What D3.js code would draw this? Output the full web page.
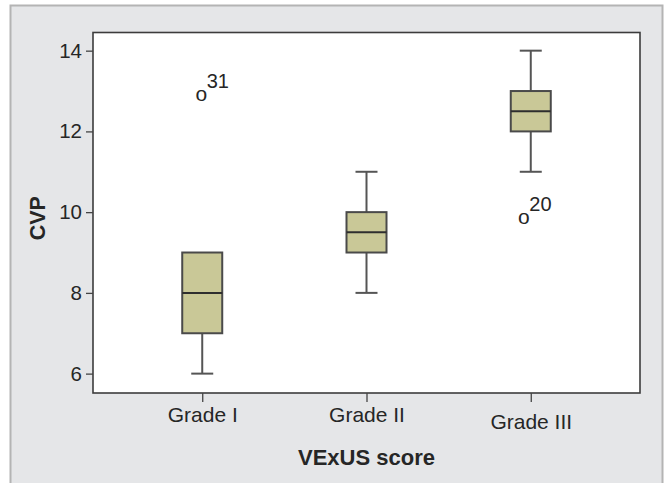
<!DOCTYPE html>
<html>
<head>
<meta charset="utf-8">
<script src="https://cdn.jsdelivr.net/npm/d3@7"></script>
<style>
  body { margin: 0; background: #fff; }
  text { font-family: "Liberation Sans", Arial, sans-serif; fill: #262626; }
</style>
</head>
<body>
<div id="chart"></div>
<script>
// box plot data
const grades = ["Grade I", "Grade II", "Grade III"];
const whiskerLow = [6, 8, 11];
const q1 = [7, 9, 12];
const medians = [8, 9.5, 12.5];
const q3 = [9, 10, 13];
const whiskerHigh = [9, 11, 14];
const outlierGrade = ["Grade I", "Grade III"];
const outlierValue = [12.9, 9.85];
const outlierLabel = ["31", "20"];
const yTicks = [6, 8, 10, 12, 14];

document.addEventListener('DOMContentLoaded', () => {
    const width = 665;
    const height = 483;

    const svg = d3.select('#chart').append('svg')
      .attr('width', width).attr('height', height);

    // grey panel behind everything
    svg.append('rect')
      .attr('x', 10.5).attr('y', 5.5)
      .attr('width', 652).attr('height', 500)
      .attr('fill', '#e5e6e8')
      .attr('stroke', '#b4b4b4').attr('stroke-width', 2);

    const plot = { left: 93, right: 640, top: 32.5, bottom: 393 };

    const x = d3.scalePoint()
      .domain(grades)
      .range([plot.left, plot.right])
      .padding(0.665);

    const y = d3.scaleLinear()
      .domain([5.52, 14.45])
      .range([plot.bottom, plot.top]);

    svg.append('rect')
      .attr('x', plot.left).attr('y', plot.top)
      .attr('width', plot.right - plot.left)
      .attr('height', plot.bottom - plot.top)
      .attr('fill', '#fff')
      .attr('stroke', '#3c3c3c').attr('stroke-width', 1.6);

    // y axis
    const yAxis = svg.append('g')
      .attr('transform', 'translate(' + plot.left + ',0)')
      .call(d3.axisLeft(y).tickValues(yTicks).tickSize(7).tickPadding(4));
    yAxis.select('.domain').remove();
    yAxis.selectAll('line').attr('stroke', '#444').attr('stroke-width', 1.3);
    yAxis.selectAll('text').attr('font-size', 20.5).attr('fill', '#262626');

    // x axis
    const xAxis = svg.append('g')
      .attr('transform', 'translate(0,' + plot.bottom + ')')
      .call(d3.axisBottom(x).tickSize(9).tickPadding(6));
    xAxis.select('.domain').remove();
    xAxis.selectAll('line').attr('stroke', '#444').attr('stroke-width', 1.3);
    xAxis.selectAll('text')
      .attr('font-size', 21)
      .attr('fill', '#262626')
      .attr('dy', (d, i) => i === 2 ? '0.98em' : '0.68em');

    // axis titles
    svg.append('text')
      .attr('x', x('Grade II')).attr('y', 465)
      .attr('text-anchor', 'middle')
      .attr('font-size', 22).attr('font-weight', 'bold')
      .text('VExUS score');

    svg.append('text')
      .attr('transform', 'translate(45,' + y(9.85) + ') rotate(-90)')
      .attr('text-anchor', 'middle')
      .attr('font-size', 21.5).attr('font-weight', 'bold')
      .text('CVP');

    // boxes
    const boxW = 40;
    const capW = 22;
    const boxes = svg.append('g').selectAll('g')
      .data(grades)
      .enter()
      .append('g');

    // whiskers
    boxes.append('line')
      .attr('x1', d => x(d)).attr('x2', d => x(d))
      .attr('y1', (d, i) => y(whiskerLow[i]))
      .attr('y2', (d, i) => y(q1[i]));
    boxes.append('line')
      .attr('x1', d => x(d)).attr('x2', d => x(d))
      .attr('y1', (d, i) => y(q3[i]))
      .attr('y2', (d, i) => y(whiskerHigh[i]));
    boxes.append('line')
      .attr('x1', d => x(d) - capW / 2).attr('x2', d => x(d) + capW / 2)
      .attr('y1', (d, i) => y(whiskerLow[i]))
      .attr('y2', (d, i) => y(whiskerLow[i]));
    boxes.filter((d, i) => whiskerHigh[i] > q3[i])
      .append('line')
      .attr('x1', d => x(d) - capW / 2).attr('x2', d => x(d) + capW / 2)
      .attr('y1', d => y(whiskerHigh[grades.indexOf(d)]))
      .attr('y2', d => y(whiskerHigh[grades.indexOf(d)]));
    boxes.selectAll('line').attr('stroke', '#555').attr('stroke-width', 2);

    boxes.append('rect')
      .attr('x', d => x(d) - boxW / 2)
      .attr('width', boxW)
      .attr('y', (d, i) => y(q3[i]))
      .attr('height', (d, i) => y(q1[i]) - y(q3[i]))
      .attr('fill', '#c9c897')
      .attr('stroke', '#4a4a4a').attr('stroke-width', 2);

    boxes.append('line')
      .attr('x1', d => x(d) - boxW / 2).attr('x2', d => x(d) + boxW / 2)
      .attr('y1', (d, i) => y(medians[i]))
      .attr('y2', (d, i) => y(medians[i]))
      .attr('stroke', '#2e2e2e').attr('stroke-width', 2);

    // outliers, drawn as "o" with the case number
    const shift = [-1, -7];
    const outliers = svg.append('g').selectAll('g')
      .data(outlierValue)
      .enter()
      .append('g')
      .attr('transform', (d, i) =>
        'translate(' + (x(outlierGrade[i]) + shift[i]) + ',' + y(d) + ')');

    outliers.append('text')
      .attr('text-anchor', 'middle')
      .attr('y', 5.8)
      .attr('font-size', 21)
      .text('o');
    outliers.append('text')
      .attr('x', 5.5)
      .attr('y', -7)
      .attr('font-size', 20)
      .text((d, i) => outlierLabel[i]);
});
</script>
</body>
</html>
